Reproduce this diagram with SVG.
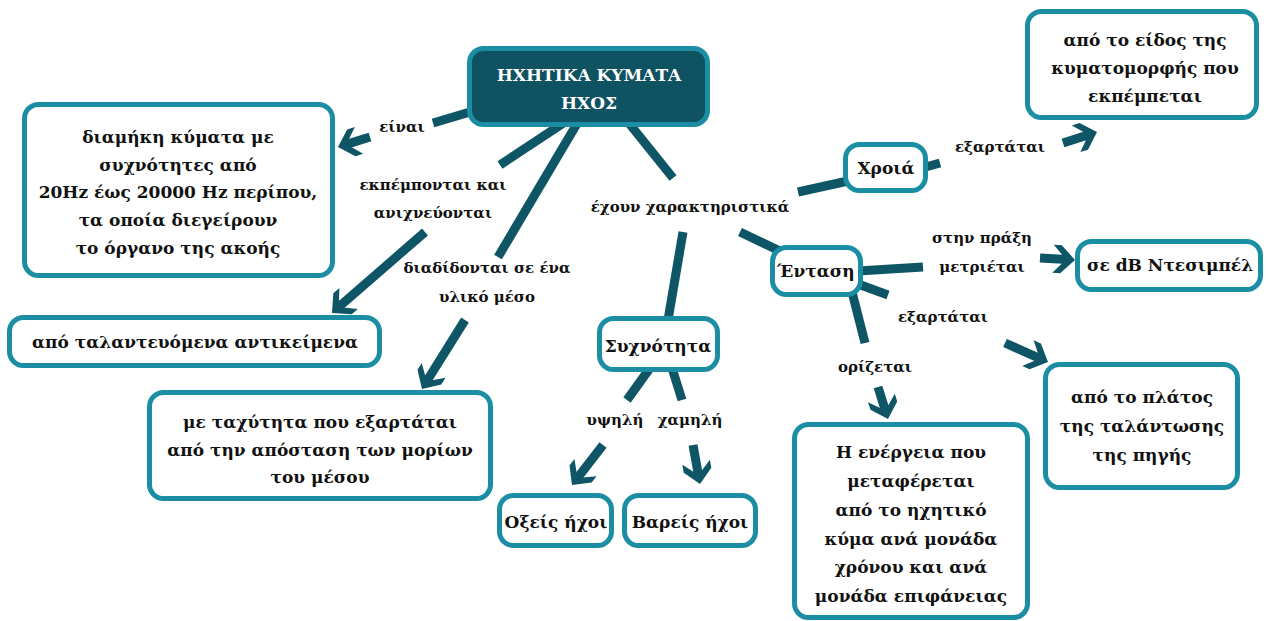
<svg xmlns="http://www.w3.org/2000/svg" width="1268" height="621" viewBox="0 0 1268 621">
<style>
.box{fill:#ffffff;stroke:#1b8ea4;stroke-width:5}
.main{fill:#0f5262;stroke:#1b8ea4;stroke-width:5}
.t{font-family:"DejaVu Serif","Liberation Serif",serif;font-weight:bold;font-size:17px;fill:#111;text-anchor:middle}
.w{font-family:"DejaVu Serif","Liberation Serif",serif;font-weight:bold;font-size:17px;fill:#fff;text-anchor:middle}
.l{font-family:"DejaVu Serif","Liberation Serif",serif;font-weight:bold;font-size:15px;fill:#111;text-anchor:middle}
.c{stroke:#0e5565;stroke-width:9;fill:none}
.a{stroke:#0e5565;stroke-width:9;fill:none;marker-end:url(#ah)}
</style>
<defs>
<marker id="ah" markerUnits="userSpaceOnUse" viewBox="-24 -16 28 32" refX="-8" refY="0" markerWidth="28" markerHeight="32" orient="auto">
<polygon points="0,0 -14,-14 -22,-14 -9,0 -22,14 -14,14" fill="#0e5565"/>
</marker>
</defs>
<g id="connectors">
<line class="c" x1="470" y1="112" x2="433" y2="123"/>
<line class="a" x1="370" y1="137" x2="345.6" y2="144.6"/>
<line class="c" x1="565" y1="122" x2="500" y2="165"/>
<line class="a" x1="425" y1="232" x2="338" y2="307.7"/>
<line class="c" x1="578" y1="122" x2="498" y2="257"/>
<line class="a" x1="465" y1="320" x2="426.2" y2="382.2"/>
<line class="c" x1="628" y1="122" x2="673" y2="178"/>
<line class="c" x1="798" y1="192" x2="848" y2="181"/>
<line class="c" x1="740" y1="232" x2="782" y2="252"/>
<line class="c" x1="683" y1="232" x2="668" y2="320"/>
<line class="c" x1="650" y1="368" x2="627" y2="400"/>
<line class="a" x1="603" y1="445" x2="576.9" y2="478.7"/>
<line class="c" x1="672" y1="368" x2="682" y2="400"/>
<line class="a" x1="693" y1="445" x2="698.6" y2="476.1"/>
<line class="c" x1="922" y1="168" x2="940" y2="163"/>
<line class="a" x1="1063" y1="143" x2="1089.4" y2="134.5"/>
<line class="c" x1="858" y1="271" x2="923" y2="267"/>
<line class="a" x1="1040" y1="258" x2="1067" y2="259.5"/>
<line class="c" x1="858" y1="284" x2="888" y2="295"/>
<line class="a" x1="1005" y1="343" x2="1040.7" y2="358.8"/>
<line class="c" x1="852" y1="292" x2="865" y2="343"/>
<line class="a" x1="878" y1="387" x2="885.6" y2="411.4"/>
</g>
<g id="labels">
<text class="l" x="402" y="132">είναι</text>
<text class="l" x="433" y="190">εκπέμπονται και</text>
<text class="l" x="433" y="218">ανιχνεύονται</text>
<text class="l" x="487" y="273">διαδίδονται σε ένα</text>
<text class="l" x="487" y="302">υλικό μέσο</text>
<text class="l" x="690" y="212">έχουν χαρακτηριστικά</text>
<text class="l" x="615" y="425">υψηλή</text>
<text class="l" x="690" y="425">χαμηλή</text>
<text class="l" x="1000" y="152">εξαρτάται</text>
<text class="l" x="982" y="243">στην πράξη</text>
<text class="l" x="982" y="272">μετριέται</text>
<text class="l" x="943" y="322">εξαρτάται</text>
<text class="l" x="875" y="372">ορίζεται</text>
</g>
<g id="main">
<rect class="main" x="469.5" y="48.5" width="238" height="76" rx="14"/>
<text class="w" x="589" y="81">ΗΧΗΤΙΚΑ ΚΥΜΑΤΑ</text>
<text class="w" x="589" y="109">ΗΧΟΣ</text>
</g>
<g id="n-diamiki">
<rect class="box" x="24.5" y="104.5" width="308" height="171" rx="14"/>
<text class="t" x="178" y="143">διαμήκη κύματα με</text>
<text class="t" x="178" y="171">συχνότητες από</text>
<text class="t" x="178" y="198">20Hz έως 20000 Hz περίπου,</text>
<text class="t" x="178" y="226">τα οποία διεγείρουν</text>
<text class="t" x="178" y="254">το όργανο της ακοής</text>
</g>
<g id="n-talant">
<rect class="box" x="9.5" y="317.5" width="370" height="48" rx="14"/>
<text class="t" x="195" y="348">από ταλαντευόμενα αντικείμενα</text>
</g>
<g id="n-taxytita">
<rect class="box" x="149.5" y="392.5" width="341" height="106" rx="14"/>
<text class="t" x="320" y="428">με ταχύτητα που εξαρτάται</text>
<text class="t" x="320" y="456">από την απόσταση των μορίων</text>
<text class="t" x="320" y="483">του μέσου</text>
</g>
<g id="n-syxnotita">
<rect class="box" x="599.5" y="318.5" width="118" height="51" rx="14"/>
<text class="t" x="658" y="352">Συχνότητα</text>
</g>
<g id="n-oxeis">
<rect class="box" x="499.5" y="495.5" width="112" height="50" rx="14"/>
<text class="t" x="556" y="528">Οξείς ήχοι</text>
</g>
<g id="n-vareis">
<rect class="box" x="624.5" y="495.5" width="131" height="50" rx="14"/>
<text class="t" x="690" y="528">Βαρείς ήχοι</text>
</g>
<g id="n-chroia">
<rect class="box" x="845.5" y="144.5" width="80" height="46" rx="14"/>
<text class="t" x="886" y="174">Χροιά</text>
</g>
<g id="n-entasi">
<rect class="box" x="772.5" y="247.5" width="88" height="47" rx="14"/>
<text class="t" x="816" y="277">Ένταση</text>
</g>
<g id="n-eidos">
<rect class="box" x="1027.5" y="11.5" width="229" height="106" rx="14"/>
<text class="t" x="1145" y="46">από το είδος της</text>
<text class="t" x="1145" y="74">κυματομορφής που</text>
<text class="t" x="1145" y="102">εκπέμπεται</text>
</g>
<g id="n-db">
<rect class="box" x="1077.5" y="241.5" width="183" height="48" rx="14"/>
<text class="t" x="1170" y="271">σε dB Ντεσιμπέλ</text>
</g>
<g id="n-platos">
<rect class="box" x="1045.5" y="364.5" width="192" height="123" rx="14"/>
<text class="t" x="1142" y="403">από το πλάτος</text>
<text class="t" x="1142" y="432">της ταλάντωσης</text>
<text class="t" x="1142" y="461">της πηγής</text>
</g>
<g id="n-energeia">
<rect class="box" x="794.5" y="424.5" width="233" height="193" rx="14"/>
<text class="t" x="911" y="458">Η ενέργεια που</text>
<text class="t" x="911" y="487">μεταφέρεται</text>
<text class="t" x="911" y="516">από το ηχητικό</text>
<text class="t" x="911" y="545">κύμα ανά μονάδα</text>
<text class="t" x="911" y="573">χρόνου και ανά</text>
<text class="t" x="911" y="602">μονάδα επιφάνειας</text>
</g>
</svg>
